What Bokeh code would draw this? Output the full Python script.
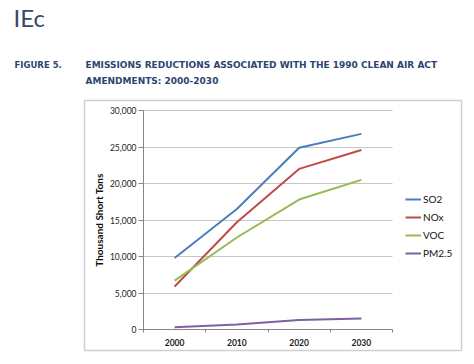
from bokeh.plotting import figure
from bokeh.models import (Legend, LegendItem, FixedTicker, NumeralTickFormatter,
                          Range1d, LinearAxis, Grid, Label)
from bokeh.embed import file_html
from bokeh.resources import INLINE

years = [2000, 2010, 2020, 2030]
so2 = [9800, 16500, 24900, 26800]
nox = [5900, 14700, 22000, 24600]
voc = [6700, 12600, 17800, 20500]
pm25 = [300, 700, 1300, 1500]
series_names = ["SO2", "NOx", "VOC", "PM2.5"]
series_vals = [so2, nox, voc, pm25]
colors = ["#4a7ebb", "#be4b48", "#98b954", "#7d60a0"]
y_ticks = [0, 5000, 10000, 15000, 20000, 25000, 30000]
x_bounds = (1995, 2035)
y_bounds = (0, 30000)

# layout (pixels on the canvas)
W, H = 474, 364
PL, PR, PT, PB = 143, 392, 110, 329   # plot area edges
BL, BR, BT, BB = 84, 461, 100, 350    # chart box edges

xs = (x_bounds[1] - x_bounds[0]) / (PR - PL)
ys = (y_bounds[1] - y_bounds[0]) / (PB - PT)
x0 = x_bounds[0] - PL * xs
y1 = y_bounds[1] + PT * ys
x_range = Range1d(x0, x_bounds[1] + (W - PR) * xs)
y_range = Range1d(y_bounds[0] - (H - PB) * ys, y1)

def px_x(px):
    return x0 + px * xs

def px_y(py):
    return y1 - py * ys

p = figure(width=W, height=H, output_backend="svg", toolbar_location=None,
           x_range=x_range, y_range=y_range,
           x_axis_location=None, y_axis_location=None)
p.min_border = 0
p.min_border_left = 0
p.min_border_right = 0
p.min_border_top = 0
p.min_border_bottom = 0
p.outline_line_color = None
p.background_fill_color = "white"
p.border_fill_color = "white"
for g in p.grid:
    g.visible = False

axis_col = "#868686"
box_col = "#cfcfcf"

# chart box (decoration): four bare axis lines
def edge(side, loc, bounds):
    a = LinearAxis(fixed_location=loc, bounds=bounds, ticker=FixedTicker(ticks=[]))
    a.axis_line_color = box_col
    a.axis_line_width = 1.5
    a.major_tick_line_color = None
    a.minor_tick_line_color = None
    a.major_label_text_font_size = "0px"
    p.add_layout(a, side)

edge("above", px_y(BT), (px_x(BL), px_x(BR)))
edge("below", px_y(BB), (px_x(BL), px_x(BR)))
edge("left", px_x(BL), (px_y(BB), px_y(BT)))
edge("right", px_x(BR), (px_y(BB), px_y(BT)))

# horizontal grid lines limited to the plot area
grid = Grid(dimension=1, ticker=FixedTicker(ticks=y_ticks),
            grid_line_color="#c6c6c6", grid_line_width=1, bounds=y_bounds)
grid.cross_bounds = x_bounds
p.add_layout(grid)

# x axis
xa = LinearAxis(fixed_location=0, bounds=x_bounds,
                ticker=FixedTicker(ticks=years, minor_ticks=[1995, 2005, 2015, 2025, 2035]))
xa.major_tick_line_color = None
xa.major_tick_out = 0
xa.minor_tick_out = 3
xa.minor_tick_in = 0
xa.minor_tick_line_color = axis_col
xa.axis_line_color = axis_col
xa.major_label_text_font = "Lato"
xa.major_label_text_font_size = "8.5px"
xa.major_label_text_font_style = "bold"
xa.major_label_text_color = "#222222"
xa.major_label_standoff = 6
p.add_layout(xa, "below")

# y axis
ya = LinearAxis(fixed_location=x_bounds[0], bounds=y_bounds,
                ticker=FixedTicker(ticks=y_ticks),
                formatter=NumeralTickFormatter(format="0,0"))
ya.minor_tick_line_color = None
ya.major_tick_out = 5
ya.major_tick_in = 0
ya.major_tick_line_color = axis_col
ya.axis_line_color = axis_col
ya.major_label_text_font = "Lato"
ya.major_label_text_font_size = "8.5px"
ya.major_label_text_color = "#222222"
ya.major_label_standoff = 2
ya.axis_label = "Thousand Short Tons"
ya.axis_label_text_font = "Lato"
ya.axis_label_text_font_size = "10px"
ya.axis_label_text_font_style = "bold"
ya.axis_label_text_color = "#111111"
ya.axis_label_standoff = 2
p.add_layout(ya, "left")

items = []
for name, vals, c in zip(series_names, series_vals, colors):
    r = p.line(years, vals, line_color=c, line_width=2)
    items.append(LegendItem(label=name, renderers=[r]))

legend = Legend(items=items, location=(405, H - 262), padding=0, margin=0,
                spacing=0, label_height=18, glyph_height=18, glyph_width=16,
                label_standoff=2, border_line_alpha=0, background_fill_alpha=0,
                label_text_font="Lato", label_text_font_size="10px",
                label_text_color="#111111")
p.add_layout(legend, "center")

# header
navy = "#2e4470"
p.add_layout(Label(x=13, y=H - 17, x_units="screen", y_units="screen", text="IEc",
                   text_font="Lato", text_font_size="24px", text_color="#3a4868",
                   text_baseline="alphabetic"))
for tx, ty, t, fs in [(14, 64, "FIGURE 5.", "8.5px"),
                      (85, 64, "EMISSIONS REDUCTIONS ASSOCIATED WITH THE 1990 CLEAN AIR ACT", "9px"),
                      (85, 80, "AMENDMENTS: 2000-2030", "9px")]:
    p.add_layout(Label(x=tx, y=H - ty, x_units="screen", y_units="screen", text=t,
                       text_font="DejaVu Sans", text_font_size=fs,
                       text_font_style="bold", text_color=navy,
                       text_baseline="middle"))

open("out.html", "w").write(file_html(p, INLINE))
